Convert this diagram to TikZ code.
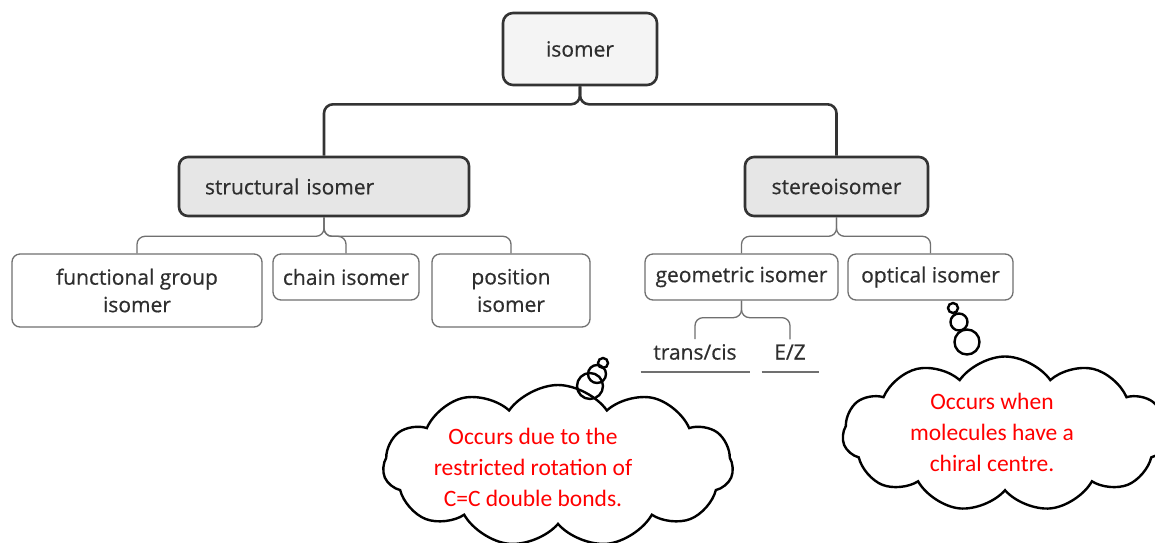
\documentclass[tikz,border=0pt]{standalone}
\usepackage{fontspec}
\setmainfont{Open Sans}
\newfontfamily\boxfont[FakeBold=0.5]{Open Sans}
\newfontfamily\calfont{Carlito}
\usetikzlibrary{shapes.symbols,calc}
\definecolor{ink}{HTML}{333333}
\definecolor{txt}{HTML}{2E2E2E}
\definecolor{line2}{HTML}{707070}
\definecolor{topfill}{HTML}{F4F4F4}
\definecolor{midfill}{HTML}{E6E6E6}
\begin{document}
\begin{tikzpicture}[x=1pt,y=-1pt,
  boxtext/.style={font=\boxfont\fontsize{21}{27.5}\selectfont, text=txt},
  topbox/.style={boxtext, draw=ink, line width=2.6pt, fill=topfill, rounded corners=10pt, inner sep=0pt},
  midbox/.style={boxtext, draw=ink, line width=2.6pt, fill=midfill, rounded corners=9pt, inner sep=0pt},
  leafbox/.style={boxtext, draw=line2, line width=1.3pt, fill=white, rounded corners=8pt, inner sep=0pt, align=center},
  plain/.style={boxtext, inner sep=3pt},
  mainlink/.style={draw=ink, line width=2.6pt, rounded corners=9pt},
  sublink/.style={draw=line2, line width=1.3pt, rounded corners=8pt},
  cloudshape/.style={cloud, draw=black, line width=2.4pt, cloud puffs=11, cloud puff arc=110, inner sep=0pt},
  bubble/.style={draw=black, line width=2.4pt},
  note/.style={font=\calfont\fontsize{23.5}{31}\selectfont, text=red, align=center}]
\clip (0,0) rectangle (1155,542);
\fill[white] (0,0) rectangle (1155,542);

\node[topbox, minimum width=154pt, minimum height=72pt] (iso) at (580,49) {isomer};
\node[midbox, text width=238pt, inner xsep=26pt, minimum height=59pt, align=left] (struct) at (324,186.5) {structural isomer};
\node[midbox, minimum width=183pt, minimum height=59pt] (stereo) at (836.5,186.5) {stereoisomer};

\node[leafbox, minimum width=250pt, minimum height=73pt] (func) at (137,290.5) {functional group\\isomer};
\node[leafbox, minimum width=146pt, minimum height=46pt] (chain) at (346,277) {chain isomer};
\node[leafbox, minimum width=158pt, minimum height=73pt] (pos) at (511,290.5) {position\\isomer};
\node[leafbox, minimum width=193pt, minimum height=46pt] (geo) at (741.5,277) {geometric isomer};
\node[leafbox, minimum width=165pt, minimum height=46pt] (opt) at (930.5,277) {optical isomer};

\node[plain] (tc) at (695,352) {trans/cis};
\node[plain] (ez) at (790,352) {E/Z};

\path[mainlink] (iso.south) -- ++(0,18) -| (struct.north);
\path[mainlink] (iso.south) -- ++(0,18) -| (stereo.north);
\path[sublink] (struct.south) -- ++(0,19) -| (func.north);
\path[sublink] (struct.south) -- ++(0,19) -| (chain.north);
\path[sublink] (struct.south) -- ++(0,19) -| (pos.north);
\path[sublink] (stereo.south) -- ++(0,19) -| (geo.north);
\path[sublink] (stereo.south) -- ++(0,19) -| (opt.north);
\path[sublink] (geo.south) -- ++(0,17) -| ([yshift=2pt]tc.north);
\path[sublink] (geo.south) -- ++(0,17) -| ([yshift=2pt]ez.north);

\draw[draw=line2, line width=1.3pt] ($(tc.center)+(-54.5,20)$) -- ($(tc.center)+(54.5,20)$);
\draw[draw=line2, line width=1.3pt] ($(ez.center)+(-28.5,20)$) -- ($(ez.center)+(28.5,20)$);

% cloud 1
\node[cloudshape, minimum width=350pt, minimum height=162pt, aspect=2.2] (c1) at (558,466) {};
\node[note] (t1) at (533,467) {Occurs due to the\\restricted rotation of\\C=C double bonds.};
\draw[bubble] (603,363) circle (5pt);
\draw[bubble] (597,374) circle (9pt);
\draw[bubble] (590,386) circle (13pt);

% cloud 2
\node[cloudshape, minimum width=325pt, minimum height=155pt, aspect=2.1] (c2) at (1005,434) {};
\node[note] (t2) at (992,432) {Occurs when\\molecules have a\\chiral centre.};
\draw[bubble] (953,308) circle (5pt);
\draw[bubble] (959,322) circle (8.5pt);
\draw[bubble] (967,342) circle (12.5pt);
\end{tikzpicture}
\end{document}
